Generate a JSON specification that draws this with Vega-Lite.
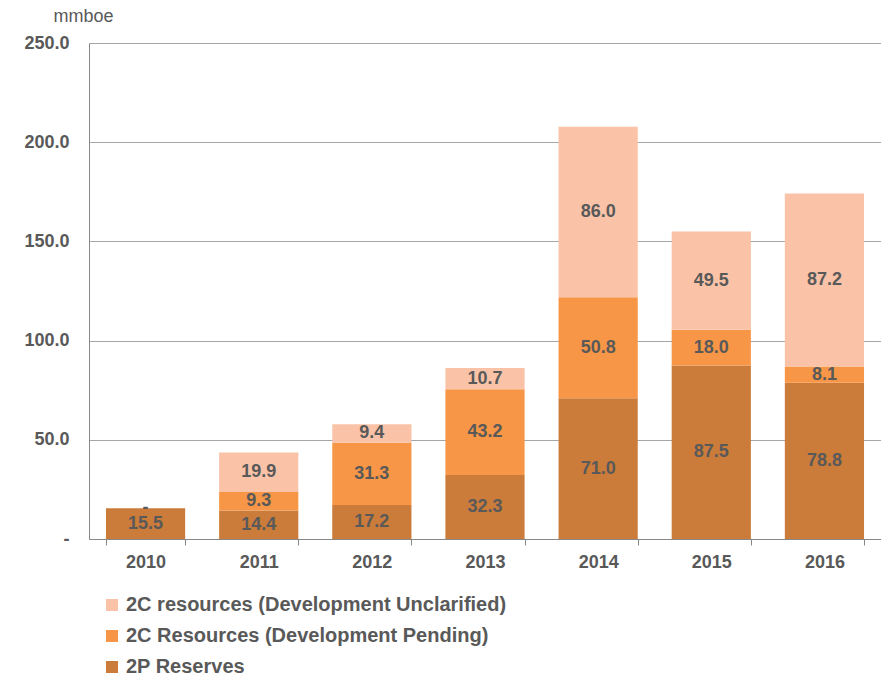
{
  "$schema": "https://vega.github.io/schema/vega-lite/v6.json",
  "width": 792,
  "height": 496,
  "autosize": {"type": "none"},
  "padding": {"left": 89, "top": 43, "right": 0, "bottom": 141},
  "background": "white",
  "data": {
    "values": [
      {"year": "2010", "series": "2P Reserves", "order": 1, "value": 15.5},
      {"year": "2010", "series": "2C Resources (Development Pending)", "order": 2, "value": 0},
      {"year": "2010", "series": "2C resources (Development Unclarified)", "order": 3, "value": 0},
      {"year": "2011", "series": "2P Reserves", "order": 1, "value": 14.4},
      {"year": "2011", "series": "2C Resources (Development Pending)", "order": 2, "value": 9.3},
      {"year": "2011", "series": "2C resources (Development Unclarified)", "order": 3, "value": 19.9},
      {"year": "2012", "series": "2P Reserves", "order": 1, "value": 17.2},
      {"year": "2012", "series": "2C Resources (Development Pending)", "order": 2, "value": 31.3},
      {"year": "2012", "series": "2C resources (Development Unclarified)", "order": 3, "value": 9.4},
      {"year": "2013", "series": "2P Reserves", "order": 1, "value": 32.3},
      {"year": "2013", "series": "2C Resources (Development Pending)", "order": 2, "value": 43.2},
      {"year": "2013", "series": "2C resources (Development Unclarified)", "order": 3, "value": 10.7},
      {"year": "2014", "series": "2P Reserves", "order": 1, "value": 71.0},
      {"year": "2014", "series": "2C Resources (Development Pending)", "order": 2, "value": 50.8},
      {"year": "2014", "series": "2C resources (Development Unclarified)", "order": 3, "value": 86.0},
      {"year": "2015", "series": "2P Reserves", "order": 1, "value": 87.5},
      {"year": "2015", "series": "2C Resources (Development Pending)", "order": 2, "value": 18.0},
      {"year": "2015", "series": "2C resources (Development Unclarified)", "order": 3, "value": 49.5},
      {"year": "2016", "series": "2P Reserves", "order": 1, "value": 78.8},
      {"year": "2016", "series": "2C Resources (Development Pending)", "order": 2, "value": 8.1},
      {"year": "2016", "series": "2C resources (Development Unclarified)", "order": 3, "value": 87.2}
    ]
  },
  "transform": [
    {"stack": "value", "groupby": ["year"], "sort": [{"field": "order", "order": "ascending"}], "as": ["v0", "v1"]},
    {"calculate": "(datum.v0 + datum.v1) / 2", "as": "mid"},
    {"calculate": "datum.value == 0 ? '-' : format(datum.value, '.1f')", "as": "label"}
  ],
  "encoding": {
    "x": {
      "field": "year", "type": "nominal", "title": null,
      "scale": {"paddingInner": 0.3, "paddingOuter": 0.15},
      "axis": {
        "labelAngle": 0, "labelFont": "Liberation Sans", "labelFontSize": 18, "labelFontWeight": "bold",
        "labelColor": "#595959", "labelPadding": 8, "domainColor": "#888888", "tickColor": "#888888",
        "tickBand": "extent", "tickSize": 6, "grid": false
      }
    }
  },
  "layer": [
    {
      "mark": {"type": "bar"},
      "encoding": {
        "y": {
          "field": "v0", "type": "quantitative",
          "scale": {"domain": [0, 250], "nice": false},
          "axis": {
            "values": [0, 50, 100, 150, 200, 250],
            "labelExpr": "datum.value == 0 ? '-' : format(datum.value, '.1f')",
            "labelFont": "Liberation Sans", "labelFontSize": 18, "labelFontWeight": "bold",
            "labelColor": "#595959", "labelPadding": 20, "ticks": false,
            "domainColor": "#888888", "gridColor": "#A6A6A6", "gridWidth": 1,
            "title": "mmboe", "titleAngle": 0, "titleFont": "Liberation Sans", "titleFontSize": 18,
            "titleFontWeight": "normal", "titleColor": "#595959", "titleAlign": "center",
            "titleBaseline": "middle", "titleX": -6, "titleY": -27
          }
        },
        "y2": {"field": "v1"},
        "color": {
          "field": "series", "type": "nominal",
          "scale": {
            "domain": ["2C resources (Development Unclarified)", "2C Resources (Development Pending)", "2P Reserves"],
            "range": ["#FAC3A8", "#F79646", "#CB7B3A"]
          },
          "legend": {
            "title": null, "orient": "none", "legendX": 13, "legendY": 552, "direction": "vertical",
            "symbolType": "square", "symbolSize": 144, "symbolStrokeWidth": 0,
            "labelFont": "Liberation Sans", "labelFontSize": 20, "labelFontWeight": "bold",
            "labelColor": "#595959", "rowPadding": 11, "labelOffset": 4, "labelLimit": 0
          }
        }
      }
    },
    {
      "transform": [{"filter": "datum.value != 0 || datum.order == 2"}],
      "mark": {"type": "text", "font": "Liberation Sans", "fontSize": 18, "fontWeight": "bold", "color": "#595959", "baseline": "middle"},
      "encoding": {
        "y": {"field": "mid", "type": "quantitative"},
        "text": {"field": "label"}
      }
    }
  ]
}
